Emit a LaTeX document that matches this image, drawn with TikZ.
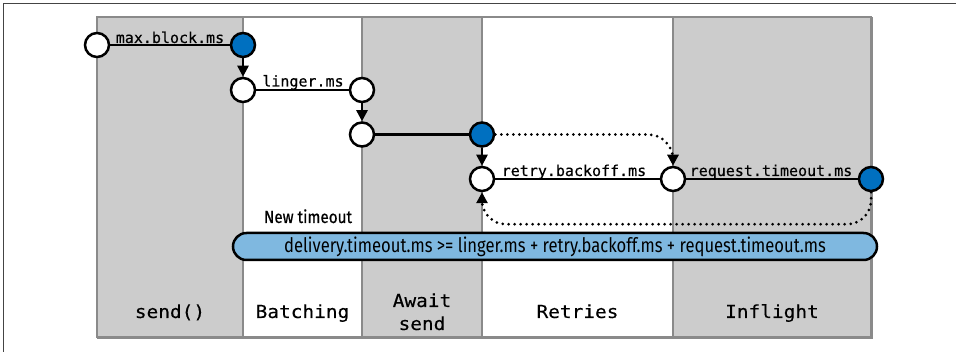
\documentclass[tikz,border=0pt]{standalone}
\usepackage{fontspec}
\usetikzlibrary{arrows.meta}
\newfontfamily\lblmono[FakeBold=0.35]{DejaVu Sans Mono}
\newfontfamily\colmono[FakeStretch=1.08,FakeBold=0.3]{DejaVu Sans Mono}
\newfontfamily\condsans[FakeStretch=0.83]{Fira Sans}
\newfontfamily\condsansb[FakeStretch=0.87,FakeBold=0.6]{Fira Sans}
\definecolor{colgray}{HTML}{CCCCCC}
\definecolor{edgegray}{HTML}{8A8A8A}
\definecolor{nodeblue}{HTML}{0070C0}
\definecolor{pillblue}{HTML}{7FB8E0}
\definecolor{framegray}{HTML}{444444}
\tikzset{
  colbox/.style={fill=colgray, draw=edgegray, line width=2.5pt},
  wcolbox/.style={fill=white, draw=edgegray, line width=2.5pt},
  oc/.style={circle, draw=black, line width=2.5pt, fill=white, minimum size=24pt, inner sep=0pt},
  bc/.style={oc, fill=nodeblue},
  lbl/.style={font=\lblmono\fontsize{15}{18}\selectfont, inner sep=0pt, anchor=base},
  collbl/.style={font=\colmono\fontsize{18}{23}\selectfont, inner sep=0pt, anchor=base, align=center},
  link/.style={draw=black, line width=2.5pt},
  arr/.style={link, -{Triangle[length=11pt,width=11pt]}},
  dotarr/.style={draw=black, line width=3pt, line cap=round, dash pattern=on 0pt off 6pt, -{Triangle[length=11pt,width=11pt]}},
  pill/.style={draw=black, line width=2.5pt, fill=pillblue, rounded corners=13.5pt, minimum width=644pt, minimum height=27pt, inner sep=0pt, font=\condsans\fontsize{20}{22}\selectfont},
}
\begin{document}
\begin{tikzpicture}[x=1pt,y=-1pt]
\useasboundingbox (0,0) rectangle (956,352);
% frame
\draw[framegray, line width=1.5pt] (3.5,352) -- (3.5,3.5) -- (956,3.5);
% columns
\draw[colbox] (97,17) rectangle (243,337);
\draw[wcolbox] (243,17) rectangle (362,337);
\draw[colbox] (362,17) rectangle (482,337);
\draw[wcolbox] (482,17) rectangle (673,337);
\draw[colbox] (673,17) rectangle (871,337);
\draw[edgegray, line width=3.5pt] (97,337.5) -- (871.5,337.5) -- (871.5,17);
% column labels
\node[collbl] (ls) at (170,318) {send()};
\node[collbl] (lb) at (302.5,318) {Batching};
\node[collbl] (la) at (422,330) {Await\\send};
\node[collbl] (lr) at (577.5,318) {Retries};
\node[collbl] (li) at (772,318) {Inflight};
% circles
\node[oc] (c1) at (97,45) {};
\node[bc] (b1) at (243,45) {};
\node[oc] (c2) at (243,90) {};
\node[oc] (c3) at (362,90) {};
\node[oc] (c4) at (362,134.5) {};
\node[bc] (b2) at (482,134.5) {};
\node[oc] (c5) at (482,179) {};
\node[oc] (c6) at (673,179) {};
\node[bc] (b3) at (871,179) {};
% timelines
\draw[link] (c1) -- (b1);
\draw[link] (c2) -- (c3);
\draw[link] (c4) -- (b2);
\draw[link] (c5) -- (c6);
\draw[link] (c6) -- (b3);
\node[lbl] (t1) at (170,43) {max.block.ms};
\node[lbl] (t2) at (303,86.5) {linger.ms};
\node[lbl] (t3) at (574,176) {retry.backoff.ms};
\node[lbl] (t4) at (771,176) {request.timeout.ms};
% arrows
\draw[arr] (b1) -- (c2);
\draw[arr] (c3) -- (c4);
\draw[arr] (b2) -- (c5);
\draw[dotarr, rounded corners=25pt] (b2.east) -| (c6.north);
\draw[dotarr, rounded corners=24pt] (b3.south) -- ++(0,32) -| (c5.south);
% timeout
\node[font=\condsansb\fontsize{17.5}{19}\selectfont, inner sep=0pt, anchor=base] (nt) at (308,223) {New timeout};
\node[pill] (p) at (555,246.5) {delivery.timeout.ms >= linger.ms + retry.backoff.ms + request.timeout.ms};
\end{tikzpicture}
\end{document}
